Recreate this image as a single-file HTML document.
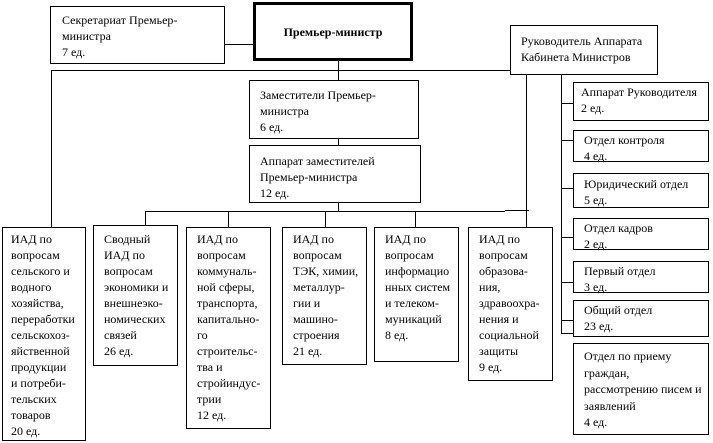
<!DOCTYPE html>
<html><head><meta charset="utf-8"><style>
body{margin:0;width:713px;height:443px;background:#fff;position:relative;overflow:hidden;font-family:"Liberation Serif",serif;font-size:12px;color:#000}
.b{position:absolute;border:1px solid #000;box-sizing:border-box;background:#fff}
.t{position:absolute;white-space:nowrap;line-height:16px}
.bt{position:absolute;white-space:nowrap;line-height:16px}
svg{position:absolute;left:0;top:0}
</style></head><body>
<svg width="713" height="443"><g stroke="#000" stroke-width="1" fill="none">
<line x1="224" y1="44.5" x2="253" y2="44.5"/>
<line x1="338.5" y1="60" x2="338.5" y2="80"/>
<line x1="51.5" y1="70.5" x2="510" y2="70.5"/>
<line x1="51.5" y1="70" x2="51.5" y2="227"/>
<line x1="338.5" y1="139" x2="338.5" y2="145"/>
<line x1="338.5" y1="202" x2="338.5" y2="211"/>
<line x1="145.5" y1="211.5" x2="505" y2="211.5"/>
<line x1="505" y1="210.5" x2="529" y2="210.5"/>
<line x1="145.5" y1="211" x2="145.5" y2="225"/>
<line x1="228.5" y1="211" x2="228.5" y2="227"/>
<line x1="325.5" y1="211" x2="325.5" y2="227"/>
<line x1="415.5" y1="211" x2="415.5" y2="227"/>
<line x1="526.5" y1="75" x2="526.5" y2="227"/>
<line x1="561.5" y1="75" x2="561.5" y2="334"/>
<line x1="561" y1="103.5" x2="573" y2="103.5"/>
<line x1="561" y1="140.5" x2="573" y2="140.5"/>
<line x1="561" y1="188.5" x2="573" y2="188.5"/>
<line x1="561" y1="237.5" x2="573" y2="237.5"/>
<line x1="561" y1="282.5" x2="573" y2="282.5"/>
<line x1="561" y1="320.5" x2="573" y2="320.5"/>
<line x1="561" y1="333.5" x2="573" y2="333.5"/>
</g></svg>

<div class="b" style="left:50px;top:6px;width:175px;height:58px"></div>
<div class="t" style="left:62px;top:12px">Секретариат Премьер-<br>министра<br>7 ед.</div>

<div class="b" style="left:253px;top:2px;width:160px;height:59px;border-width:3px"></div>
<div class="t" style="left:253px;width:160px;top:24px;text-align:center;font-weight:bold">Премьер-министр</div>

<div class="b" style="left:510px;top:25px;width:148px;height:50px"></div>
<div class="t" style="left:521px;top:33px">Руководитель Аппарата<br>Кабинета Министров</div>

<div class="b" style="left:249px;top:80px;width:170px;height:59px"></div>
<div class="t" style="left:260px;top:87px">Заместители Премьер-<br>министра<br>6 ед.</div>

<div class="b" style="left:249px;top:145px;width:172px;height:58px"></div>
<div class="t" style="left:260px;top:153px">Аппарат заместителей<br>Премьер-министра<br>12 ед.</div>

<div class="b" style="left:2px;top:227px;width:84px;height:214px"></div>
<div class="bt" style="left:11px;top:231px">ИАД по<br>вопросам<br>сельского и<br>водного<br>хозяйства,<br>переработки<br>сельскохоз-<br>яйственной<br>продукции<br>и потреби-<br>тельских<br>товаров<br>20 ед.</div>

<div class="b" style="left:93px;top:225px;width:85px;height:141px"></div>
<div class="bt" style="left:104px;top:231px">Сводный<br>ИАД по<br>вопросам<br>экономики и<br>внешнеэко-<br>номических<br>связей<br>26 ед.</div>

<div class="b" style="left:186px;top:227px;width:85px;height:202px"></div>
<div class="bt" style="left:197px;top:231px">ИАД по<br>вопросам<br>коммуналь-<br>ной сферы,<br>транспорта,<br>капитально-<br>го<br>строительс-<br>тва и<br>стройиндус-<br>трии<br>12 ед.</div>

<div class="b" style="left:282px;top:227px;width:85px;height:138px"></div>
<div class="bt" style="left:293px;top:231px">ИАД по<br>вопросам<br>ТЭК, химии,<br>металлур-<br>гии и<br>машино-<br>строения<br>21 ед.</div>

<div class="b" style="left:374px;top:227px;width:85px;height:135px"></div>
<div class="bt" style="left:385px;top:231px">ИАД по<br>вопросам<br>информацио<br>нных систем<br>и телеком-<br>муникаций<br>8 ед.</div>

<div class="b" style="left:468px;top:227px;width:85px;height:154px"></div>
<div class="bt" style="left:479px;top:231px">ИАД по<br>вопросам<br>образова-<br>ния,<br>здравоохра-<br>нения и<br>социальной<br>защиты<br>9 ед.</div>

<div class="b" style="left:573px;top:82px;width:136px;height:39px"></div>
<div class="t" style="left:581px;top:84px">Аппарат Руководителя<br>2 ед.</div>
<div class="b" style="left:573px;top:130px;width:136px;height:32px"></div>
<div class="t" style="left:584px;top:132px">Отдел контроля<br>4 ед.</div>
<div class="b" style="left:573px;top:173px;width:136px;height:35px"></div>
<div class="t" style="left:584px;top:176px">Юридический отдел<br>5 ед.</div>
<div class="b" style="left:573px;top:218px;width:136px;height:32px"></div>
<div class="t" style="left:584px;top:220px">Отдел кадров<br>2 ед.</div>
<div class="b" style="left:573px;top:261px;width:136px;height:32px"></div>
<div class="t" style="left:584px;top:263px">Первый отдел<br>3 ед.</div>
<div class="b" style="left:573px;top:300px;width:136px;height:37px"></div>
<div class="t" style="left:584px;top:302px">Общий отдел<br>23 ед.</div>
<div class="b" style="left:573px;top:343px;width:136px;height:92px"></div>
<div class="t" style="left:584px;top:348px;line-height:16.5px">Отдел по приему<br>граждан,<br>рассмотрению писем и<br>заявлений<br>4 ед.</div>
</body></html>
